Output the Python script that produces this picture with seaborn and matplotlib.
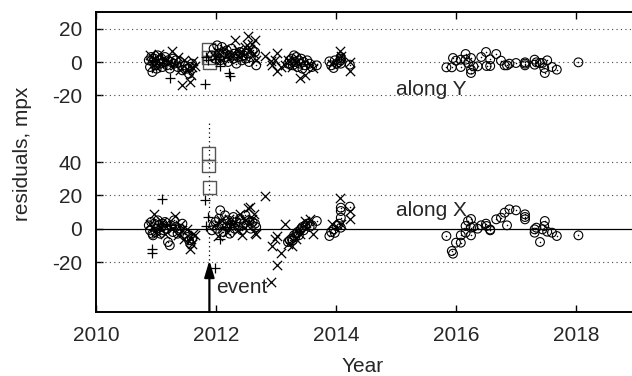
import matplotlib
matplotlib.use("Agg")
import matplotlib.pyplot as plt
import numpy as np
import pandas as pd
import seaborn as sns

# ---------------------------------------------------------------------------
# Residuals (mpx) of the astrometric fit, per observation epoch.
# dx = residual along X, dy = residual along Y.
# ---------------------------------------------------------------------------

# open circles
circ_t = [2010.88, 2010.90, 2010.92, 2010.94, 2010.95, 2010.97, 2010.99, 2011.01, 2011.03, 2011.05,
          2011.07, 2011.09, 2011.11, 2011.13, 2011.15, 2011.18, 2011.20, 2011.23, 2011.25, 2011.28,
          2011.30, 2011.33, 2011.36, 2011.40, 2011.44, 2011.48, 2011.52, 2011.55, 2011.57, 2011.60,
          2011.93, 2011.96, 2011.99, 2012.02, 2012.05, 2012.07, 2012.10, 2012.12, 2012.15, 2012.18,
          2012.20, 2012.23, 2012.26, 2012.29, 2012.31, 2012.34, 2012.37, 2012.40, 2012.43, 2012.46,
          2012.49, 2012.52, 2012.55, 2012.58, 2012.61, 2012.65, 2012.67,
          2013.20, 2013.23, 2013.26, 2013.28, 2013.30, 2013.32, 2013.34, 2013.36, 2013.38, 2013.40,
          2013.42, 2013.44, 2013.46, 2013.49, 2013.52, 2013.56, 2013.60, 2013.68,
          2013.89, 2013.92, 2013.96, 2013.98, 2014.01, 2014.05, 2014.08, 2014.08, 2014.08, 2014.08,
          2014.23,
          2015.84, 2015.93, 2015.95, 2016.00, 2016.08, 2016.08, 2016.16, 2016.16, 2016.20, 2016.25,
          2016.25, 2016.25, 2016.29, 2016.36, 2016.42, 2016.50, 2016.51, 2016.57, 2016.57, 2016.67,
          2016.75, 2016.81, 2016.85, 2016.89, 2017.00, 2017.15, 2017.15, 2017.15, 2017.31, 2017.31,
          2017.34, 2017.40, 2017.44, 2017.48, 2017.47, 2017.52, 2017.60, 2017.68, 2018.04]
circ_dx = [2, -1, 4, -3, -4, 3, -2, 0, 5, 2,
           -3, 1, 3, -1, 4, 0, -8, -10, 2, -2,
           5, 1, -3, 0, 3, -3, -5, -7, -9, -6,
           -1, 2, 4, 0, 6, 11, 3, -2, 8, 1,
           5, -3, 2, 7, 0, 4, 1, 6, -1, 3,
           8, 2, 5, 0, 4, 3, 1,
           -8, -7, -6, -7, -4, -5, -3, -2, -4, -1,
           0, 1, -1, 2, 3, 1, 2, 4.6,
           -4.4, -2, -0.4, -2.5, 1.6, 3, 0.6, 6.6, 10.6, 12.6,
           13.2,
           -4.4, -13.4, -15, -8.4, -8.4, -4, -2.4, 1.6, 4.6, 5.8,
           0.6, -4, 1.2, 0, 2, 3, 1.6, -1, -0.5, 5.6,
           6.6, 9.6, 2, 11.6, 11, 8.6, 5.6, 7, -0.4, -2.4,
           0.6, -8, -0.4, 4.6, 1.6, -1.8, -2.4, -4.4, -4]
circ_dy = [1, -3, 3, -6, 0, 2, -2, -4, 4, 1,
           -1, 2, -3, 0, 3, -2, 1, -4, 0, 2,
           -1, 1, -3, 0, -5, -2, -4, -7, -3, -1,
           4, 8, 2, 10, 5, 1, 9, 6, 3, 7,
           0, 4, 8, 2, 5, -1, 3, 6, 1, 4,
           2, 5, 0, 3, 7, 6, -2,
           -1, 1, 2, -2, 4, 0, 3, -3, 1, -1,
           2, -4, 0, -2, 1, -1, -3, -2,
           0.4, -2, -3.6, 1, -1, 0, 2, 1, -1, 3,
           -1.6,
           -3.2, -3.2, 2.4, 0.8, 1.4, -3, 4.8, 1.4, -0.6, -4.6,
           -6.6, 2.4, -2.6, -2.6, 3, 6, -2.4, 1.6, -2.4, 4.8,
           0.8, -2, -2, -1, -0.6, -2, -0.2, -1, 1.4, -1.6,
           -0.2, -0.6, -0.6, -6.6, -3.6, 1, -3, -4.6, -0.2]

# crosses
cross_t = [2010.90, 2010.96, 2011.00, 2011.05, 2011.10, 2011.15, 2011.20, 2011.26, 2011.32, 2011.36,
           2011.40, 2011.43, 2011.47, 2011.51, 2011.56, 2011.58, 2011.60, 2011.62, 2011.65,
           2011.98, 2012.03, 2012.08, 2012.13, 2012.18, 2012.22, 2012.27, 2012.32, 2012.36, 2012.40,
           2012.44, 2012.48, 2012.51, 2012.54, 2012.57, 2012.60, 2012.63, 2012.65, 2012.66,
           2012.82, 2012.91, 2012.93, 2012.98, 2013.01, 2013.02, 2013.09,
           2013.15, 2013.20, 2013.26, 2013.33, 2013.40, 2013.48, 2013.56, 2013.62,
           2013.93, 2014.07, 2014.09, 2014.23, 2014.23]
cross_dx = [3, 8.6, -2, 1, 4, -3, 2, 0, 7.6, -4,
            2, -1, -6, 0, -12.4, -6, -9.4, -3, -4,
            2, -4.6, 5, 1, -2, 6, 3, 4, -1, 8.6,
            -3.6, 5, 2, 12.6, 12.8, 6, 9, -2.3, -3.4,
            19.6, -32, -10.4, -6.4, -4.4, -21.8, -14.4,
            2.6, -9.4, -10.4, -6, -3, 4.6, 5.6, -3.4,
            2.6, 18.6, 3, 10.6, 5.6]
cross_dy = [4, 1, -3, 5, -1, 2, 0, 6.8, -2, 3,
            -5, -13.6, 1, -4, -12, -8, -3, 0.4, -2.6,
            3, 6, 1, 8, 4, 2, 5, 13.4, 7, 3,
            6, 9, 10.4, 15.4, 8, 11, 5, 13.4, 1.4,
            3.4, 0.5, -1.6, 1, 5.4, -5.6, -3,
            -1.6, 1, -3, 0, -9.6, -7.6, -2, -3.6,
            -1, 6.4, 3.4, -5.6, 0]

# plus signs
plus_t = [2010.93, 2010.94, 2011.10, 2011.24, 2011.82, 2011.84, 2011.87, 2011.98, 2012.07, 2012.22, 2012.23]
plus_dx = [-12.4, -14.4, 17.6, 2, 17, 1.6, 7, -23.8, -6.4, 1, 3]
plus_dy = [1, 0, 2, -9.6, -13.2, 3, 1, 2, -2.6, -6.6, -8.6]

# open squares
sq_t = [2011.88, 2011.88, 2011.89]
sq_dx = [45.2, 37.6, 24.6]
sq_dy = [7.4, 2.6, -0.4]

event_year = 2011.89
y_offset = 100  # the Y residuals are drawn shifted up by this amount


def long_table(t, dx, dy):
    n = len(t)
    return pd.DataFrame({
        "year": list(t) * 2,
        "pos": list(dx) + [v + y_offset for v in dy],
        "comp": ["X"] * n + ["Y"] * n,
    })


circ = long_table(circ_t, circ_dx, circ_dy)
cross = long_table(cross_t, cross_dx, cross_dy)
plus = long_table(plus_t, plus_dx, plus_dy)
sq = long_table(sq_t, sq_dx, sq_dy)

sns.set_style("ticks")
plt.rcParams["font.family"] = ["Liberation Sans", "DejaVu Sans"]
fs = 15
plt.rcParams["font.size"] = fs

fig = plt.figure(figsize=(6.32, 3.76), dpi=100)
ax = fig.add_axes([96 / 632, 64 / 376, 540 / 632, 300 / 376])

# reference lines
for yv in [-20, 20, 40, 80, 100, 120]:
    ax.axhline(yv, color="#444444", lw=0.8, ls=(0, (1, 3)), zorder=1)
ax.axhline(0, color="black", lw=0.9, zorder=1)

# the event: dotted marker line and arrow
ax.plot([event_year, event_year], [-19, 65], color="black", lw=0.9, ls=(0, (1, 2.5)), zorder=1)
ax.annotate("", xy=(event_year, -19), xytext=(event_year, -50),
            arrowprops=dict(arrowstyle="-|>,head_length=1.0,head_width=0.3",
                            lw=1.6, color="black", mutation_scale=10, shrinkA=0, shrinkB=0),
            zorder=4)

sns.scatterplot(data=sq, x="year", y="pos", marker="s", s=85, color="none",
                edgecolor="#555555", linewidth=1.0, ax=ax, zorder=3, legend=False)
sns.scatterplot(data=circ, x="year", y="pos", marker="o", s=40, color="none",
                edgecolor="black", linewidth=0.8, ax=ax, zorder=3, legend=False)
sns.scatterplot(data=circ, x="year", y="pos", marker="o", s=1.2, color="black",
                linewidth=0, ax=ax, zorder=3, legend=False)
sns.scatterplot(data=cross, x="year", y="pos", marker="x", s=45, color="black",
                linewidth=0.9, ax=ax, zorder=3, legend=False)
sns.scatterplot(data=plus, x="year", y="pos", marker="+", s=50, color="black",
                linewidth=0.9, ax=ax, zorder=3, legend=False)

ax.text(event_year + 0.12, -38.8, "event", ha="left", va="baseline", fontsize=fs)
ax.text(2015.0, 80.4, "along Y", ha="left", va="baseline", fontsize=fs)
ax.text(2015.0, 7.6, "along X", ha="left", va="baseline", fontsize=fs)

ax.set_xlim(2010, 2019)
ax.set_ylim(-50, 130)
ax.set_xticks([2010, 2012, 2014, 2016, 2018])
ytick_pos = [-20, 0, 20, 40, 80, 100, 120]
ax.set_yticks(ytick_pos)
ax.set_yticklabels([str(v - y_offset) if v > 60 else str(v) for v in ytick_pos])
ax.tick_params(axis="both", direction="in", length=5, width=1.0, labelsize=fs,
               top=True, right=False, color="black")
ax.tick_params(axis="y", pad=10)
ax.tick_params(axis="x", pad=10)
for side in ["left", "bottom", "top", "right"]:
    ax.spines[side].set_linewidth(1.4)
    ax.spines[side].set_color("black")

ax.set_xlabel("Year", fontsize=fs)
ax.set_ylabel("residuals, mpx", fontsize=fs)
ax.xaxis.label.set(ha="center", va="center")
ax.yaxis.label.set(ha="center", va="center", rotation_mode="default")
ax.xaxis.set_label_coords(0.494, -0.18)
ax.yaxis.set_label_coords(-0.137, 0.527)

fig.savefig("out.png", dpi=100)
